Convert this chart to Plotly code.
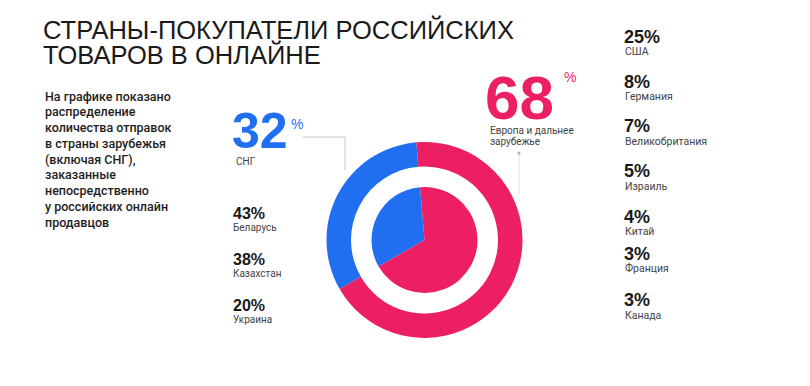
import plotly.graph_objects as go

# ---- data ----
regions = ["СНГ", "Европа и дальнее зарубежье"]
region_share = [32, 68]
cis_countries = ["Беларусь", "Казахстан", "Украина"]
cis_share = [43, 38, 20]
far_countries = ["США", "Германия", "Великобритания", "Израиль", "Китай", "Франция", "Канада"]
far_share = [25, 8, 7, 5, 4, 3, 3]
title_lines = ["СТРАНЫ-ПОКУПАТЕЛИ РОССИЙСКИХ", "ТОВАРОВ В ОНЛАЙНЕ"]
note_lines = ["На графике показано", "распределение", "количества отправок",
              "в страны зарубежья", "(включая СНГ),", "заказанные",
              "непосредственно", "у российских онлайн", "продавцов"]

# ---- style ----
W, H = 810, 386
OFF = 8  # page body margin
BLUE = "#1f6ff0"
PINK = "#ec1f63"
FONT = "Liberation Sans, Arial, sans-serif"
BODY = "Roboto, Liberation Sans, Arial, sans-serif"
colors = [BLUE, PINK]

def px(x):
    return (x - OFF) / W

def py(y):
    return 1 - (y - OFF) / H

cx, cy = 424.5, 240
R_out, R_in = 98, 53

fig = go.Figure()
fig.add_trace(go.Pie(
    labels=regions, values=region_share, sort=False, direction="clockwise",
    rotation=-120, hole=0.75, textinfo="none", hoverinfo="label+percent",
    marker=dict(colors=colors, line=dict(width=0)), showlegend=False,
    domain=dict(x=[px(cx - R_out), px(cx + R_out)], y=[py(cy + R_out), py(cy - R_out)]),
))
fig.add_trace(go.Pie(
    labels=regions, values=region_share, sort=False, direction="clockwise",
    rotation=-120, textinfo="none", hoverinfo="label+percent",
    marker=dict(colors=colors, line=dict(width=0)), showlegend=False,
    domain=dict(x=[px(cx - R_in), px(cx + R_in)], y=[py(cy + R_in), py(cy - R_in)]),
))

ann = []

def text(x, y, s, size, color="#1a1a1a", weight="normal", family=FONT, anchor="left"):
    ann.append(dict(x=px(x), y=py(y), xref="paper", yref="paper", text=s,
                    showarrow=False, xanchor=anchor, yanchor="middle",
                    font=dict(size=size, color=color, family=family, weight=weight)))

# title
for i, line in enumerate(title_lines):
    text(41, 30 + i * 25, line, 25.5, color="#1a1a1a")

# note paragraph
for i, line in enumerate(note_lines):
    text(43, 96 + i * 15.75, line, 12.5, color="#1e1e1e", weight=500, family=BODY)

# big numbers
text(230, 131, str(region_share[0]), 50, color=BLUE, weight="bold")
text(289, 124, "%", 14, color=BLUE)
text(234, 161, regions[0], 10, color="#444444", family=BODY)
text(483, 98, str(region_share[1]), 62, color=PINK, weight="bold")
text(562, 77, "%", 14, color=PINK)
text(488, 130.5, "Европа и дальнее", 10, color="#444444", family=BODY)
text(488, 141.5, "зарубежье", 10, color="#444444", family=BODY)

# CIS list
cis_y = [213, 259, 305]
for yv, n, v in zip(cis_y, cis_countries, cis_share):
    text(231, yv, f"{v}%", 16, weight="bold")
    text(231, yv + 14, n, 10, color="#444444", family=BODY)

# far list
far_y = [36.5, 81.5, 126.5, 171.5, 216.5, 253.5, 300]
for yv, n, v in zip(far_y, far_countries, far_share):
    text(622, yv, f"{v}%", 18, weight="bold")
    text(623, yv + 15, n, 10.5, color="#444444", family=BODY)

shapes = [
    dict(type="line", xref="paper", yref="paper", x0=px(303), y0=py(137), x1=px(345), y1=py(137),
         line=dict(color="#c8c8c8", width=1)),
    dict(type="line", xref="paper", yref="paper", x0=px(345), y0=py(137), x1=px(345), y1=py(170),
         line=dict(color="#c8c8c8", width=1)),
    dict(type="line", xref="paper", yref="paper", x0=px(519), y0=py(153), x1=px(519), y1=py(195),
         line=dict(color="#e0e0e0", width=1)),
    dict(type="circle", xref="paper", yref="paper", x0=px(517.5), y0=py(151.5), x1=px(520.5), y1=py(154.5),
         fillcolor="#b0b0b0", line=dict(width=0)),
]

fig.update_layout(
    width=W, height=H, margin=dict(l=0, r=0, t=0, b=0),
    paper_bgcolor="white", plot_bgcolor="white",
    annotations=ann, shapes=shapes, showlegend=False,
)
fig.write_html("out.html")
